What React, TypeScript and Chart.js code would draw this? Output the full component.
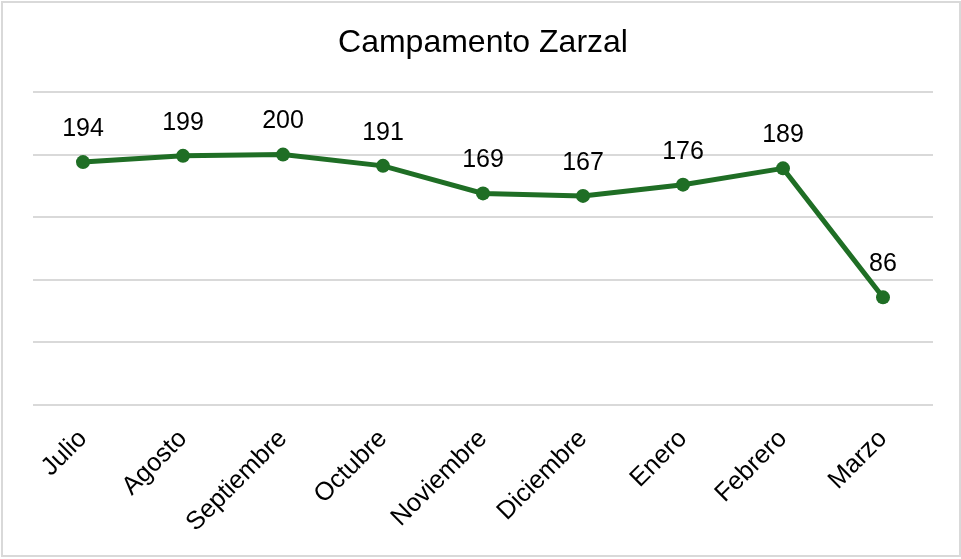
import React, { useEffect, useRef } from "react";
import { Chart, registerables } from "chart.js";

Chart.register(...registerables);

const TITLE = "Campamento Zarzal";
const months = ["Julio", "Agosto", "Septiembre", "Octubre", "Noviembre", "Diciembre", "Enero", "Febrero", "Marzo"];
const values = [194, 199, 200, 191, 169, 167, 176, 189, 86];
const yMin = 0;
const yMax = 250;
const yStep = 50;

const LINE_COLOR = "#1f6e25";
const FONT = "'Liberation Sans', Arial, sans-serif";

const dataLabels = {
  id: "dataLabels",
  afterDatasetsDraw(chart: any) {
    const ctx = chart.ctx;
    const meta = chart.getDatasetMeta(0);
    ctx.save();
    ctx.font = `25px ${FONT}`;
    ctx.fillStyle = "#000000";
    ctx.textAlign = "center";
    ctx.textBaseline = "middle";
    meta.data.forEach((pt: any, i: number) => {
      ctx.fillText(String(values[i]), pt.x, pt.y - 33);
    });
    ctx.restore();
  },
};

export default function App() {
  const ref = useRef<HTMLCanvasElement | null>(null);
  useEffect(() => {
    document.body.style.margin = "0";
    const chart = new Chart(ref.current as HTMLCanvasElement, {
      type: "line",
      data: {
        labels: months,
        datasets: [
          {
            data: values,
            borderColor: LINE_COLOR,
            backgroundColor: LINE_COLOR,
            borderWidth: 5,
            pointRadius: 7,
            pointBackgroundColor: LINE_COLOR,
            pointBorderColor: LINE_COLOR,
            pointBorderWidth: 0,
            tension: 0,
          },
        ],
      },
      options: {
        animation: false,
        responsive: false,
        maintainAspectRatio: false,
        layout: { padding: { left: 33, right: 28, top: 0, bottom: 0 } },
        plugins: {
          legend: { display: false },
          tooltip: { enabled: false },
          title: {
            display: true,
            text: TITLE,
            color: "#000000",
            font: { family: FONT, size: 32, weight: "normal", lineHeight: 1.2 },
            padding: { top: 24, bottom: 29.6 },
          },
        },
        scales: {
          x: {
            offset: true,
            grid: { display: false, drawTicks: false },
            border: { display: false },
            ticks: {
              color: "#000000",
              font: { family: FONT, size: 25.5 },
              maxRotation: 45,
              minRotation: 45,
              autoSkip: false,
              padding: 19,
            },
            afterFit(scale: any) {
              scale.height = 154;
            },
          },
          y: {
            min: yMin,
            max: yMax,
            ticks: { display: false, stepSize: yStep },
            grid: { color: "#d9d9d9", lineWidth: 2, drawTicks: false },
            border: { display: false },
            afterFit(scale: any) {
              scale.width = 0;
            },
          },
        },
      },
      plugins: [dataLabels],
    } as any);
    return () => chart.destroy();
  }, []);
  return (
    <div style={{ position: "relative", width: 961, height: 559, background: "#ffffff" }}>
      <canvas ref={ref} width={961} height={559} style={{ position: "absolute", left: 0, top: 0, width: 961, height: 559 }} />
      <div
        style={{
          position: "absolute",
          left: 1,
          top: 1,
          width: 960,
          height: 556,
          boxSizing: "border-box",
          border: "2px solid #d9d9d9",
          pointerEvents: "none",
        }}
      />
    </div>
  );
}
